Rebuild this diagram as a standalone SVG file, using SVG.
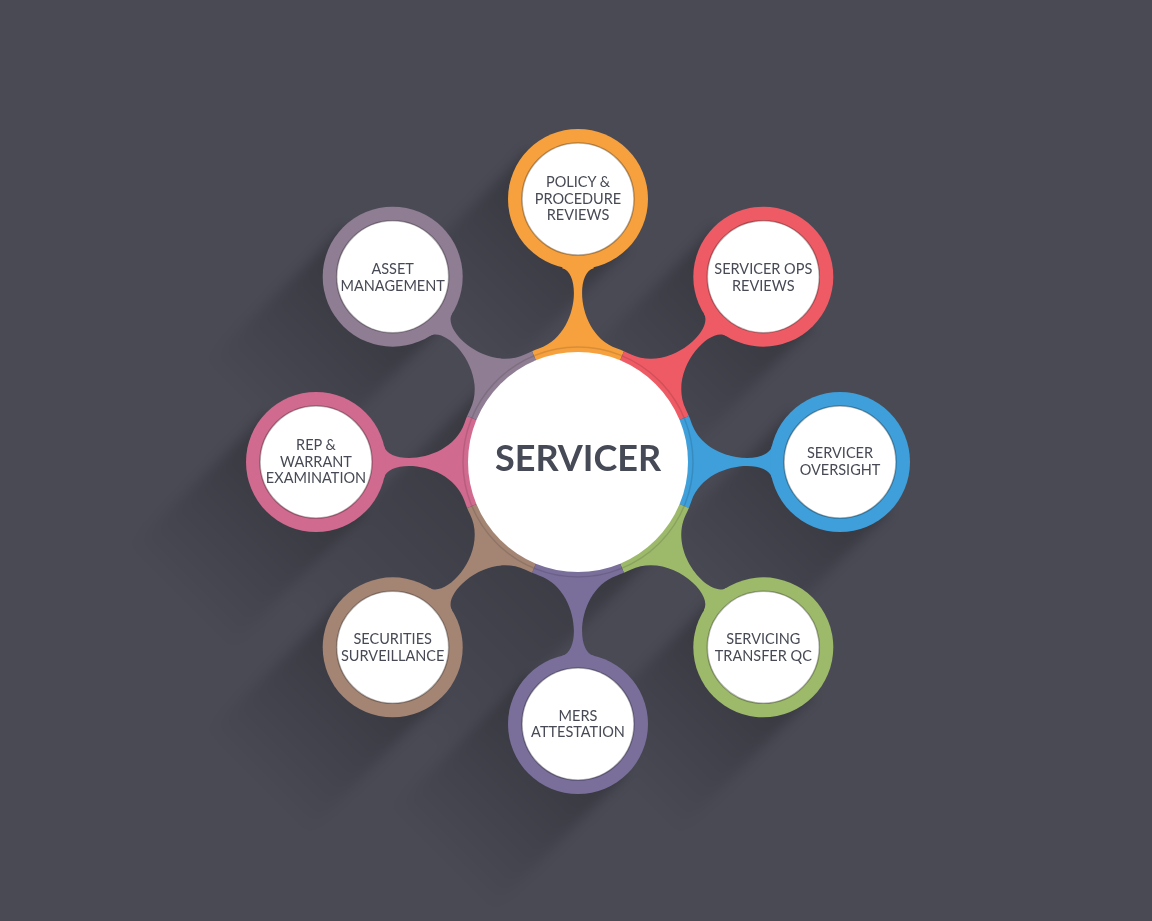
<svg xmlns="http://www.w3.org/2000/svg" width="1152" height="921" viewBox="0 0 1152 921">
  <defs>
    <linearGradient id="sh" x1="0" y1="0" x2="0" y2="1">
      <stop offset="0" stop-color="#000" stop-opacity="0.26"/>
      <stop offset="1" stop-color="#000" stop-opacity="0"/>
    </linearGradient>
    <filter id="blur" x="-30%" y="-30%" width="160%" height="160%">
      <feGaussianBlur stdDeviation="6"/>
    </filter>
    <path id="conn" d="M 0 0 L 110.87 -45.92 A 120 120 0 0 1 113.46 -39.07 C 127.2 0.66 189.3 3.73 193.8 -15.75 L 262 0 L 193.8 15.75 C 189.3 -3.73 127.2 -0.66 113.46 39.07 A 120 120 0 0 1 110.87 45.92 Z"/>
  </defs>
  <style>
    .ring { stroke: none; }
    .inner { fill: #ffffff; stroke: #000; stroke-opacity: 0.28; stroke-width: 1.6; }
    .lbl { font-family: Lato, "Liberation Sans", sans-serif; font-size: 14.5px; fill: #474a54; text-anchor: middle; }
    .title { font-family: Lato, "Liberation Sans", sans-serif; font-weight: bold; font-size: 36px; fill: #464a56; text-anchor: middle; }
  </style>
  <rect x="0" y="0" width="1152" height="921" fill="#4a4a55"/>

  <g id="shadows" filter="url(#blur)">
    <rect transform="translate(578 462) rotate(45)" x="-120" y="0" width="240" height="300" fill="url(#sh)"/>
    <rect transform="translate(578 199) rotate(45)" x="-70" y="0" width="140" height="190" fill="url(#sh)"/>
    <rect transform="translate(763.3 276.7) rotate(45)" x="-70" y="0" width="140" height="190" fill="url(#sh)"/>
    <rect transform="translate(840 462) rotate(45)" x="-70" y="0" width="140" height="190" fill="url(#sh)"/>
    <rect transform="translate(763.3 647.3) rotate(45)" x="-70" y="0" width="140" height="190" fill="url(#sh)"/>
    <rect transform="translate(578 724) rotate(45)" x="-70" y="0" width="140" height="190" fill="url(#sh)"/>
    <rect transform="translate(392.7 647.3) rotate(45)" x="-70" y="0" width="140" height="190" fill="url(#sh)"/>
    <rect transform="translate(316 462) rotate(45)" x="-70" y="0" width="140" height="190" fill="url(#sh)"/>
    <rect transform="translate(392.7 276.7) rotate(45)" x="-70" y="0" width="140" height="190" fill="url(#sh)"/>
  </g>

  <g id="connectors">
    <use href="#conn" transform="translate(578 462) rotate(-90)" fill="#f6a13e"/>
    <use href="#conn" transform="translate(578 462) rotate(-45)" fill="#ef5b65"/>
    <use href="#conn" transform="translate(578 462) rotate(0)" fill="#3e9fda"/>
    <use href="#conn" transform="translate(578 462) rotate(45)" fill="#9dba6b"/>
    <use href="#conn" transform="translate(578 462) rotate(90)" fill="#7a6f9b"/>
    <use href="#conn" transform="translate(578 462) rotate(135)" fill="#a48574"/>
    <use href="#conn" transform="translate(578 462) rotate(180)" fill="#d06a8e"/>
    <use href="#conn" transform="translate(578 462) rotate(225)" fill="#8f7d93"/>
  </g>

  <g id="center">
    <circle cx="578" cy="462" r="115" fill="none" stroke="#000" stroke-opacity="0.12" stroke-width="1.5"/>
    <circle cx="578" cy="462" r="110" fill="#ffffff"/>
    <text class="title" x="578" y="471">SERVICER</text>
  </g>

  <g id="node-policy">
    <circle class="ring" cx="578" cy="199" r="70" fill="#f6a13e"/>
    <circle class="inner" cx="578" cy="199" r="56"/>
    <text class="lbl" x="578" y="187">POLICY &amp;</text>
    <text class="lbl" x="578" y="204">PROCEDURE</text>
    <text class="lbl" x="578" y="220">REVIEWS</text>
  </g>

  <g id="node-ops">
    <circle class="ring" cx="763.3" cy="276.7" r="70" fill="#ef5b65"/>
    <circle class="inner" cx="763.3" cy="276.7" r="56"/>
    <text class="lbl" x="763.3" y="273.7">SERVICER OPS</text>
    <text class="lbl" x="763.3" y="290.7">REVIEWS</text>
  </g>

  <g id="node-oversight">
    <circle class="ring" cx="840" cy="462" r="70" fill="#3e9fda"/>
    <circle class="inner" cx="840" cy="462" r="56"/>
    <text class="lbl" x="840" y="458">SERVICER</text>
    <text class="lbl" x="840" y="475">OVERSIGHT</text>
  </g>

  <g id="node-transfer">
    <circle class="ring" cx="763.3" cy="647.3" r="70" fill="#9dba6b"/>
    <circle class="inner" cx="763.3" cy="647.3" r="56"/>
    <text class="lbl" x="763.3" y="644">SERVICING</text>
    <text class="lbl" x="763.3" y="661">TRANSFER QC</text>
  </g>

  <g id="node-mers">
    <circle class="ring" cx="578" cy="724" r="70" fill="#7a6f9b"/>
    <circle class="inner" cx="578" cy="724" r="56"/>
    <text class="lbl" x="578" y="721">MERS</text>
    <text class="lbl" x="578" y="737">ATTESTATION</text>
  </g>

  <g id="node-securities">
    <circle class="ring" cx="392.7" cy="647.3" r="70" fill="#a48574"/>
    <circle class="inner" cx="392.7" cy="647.3" r="56"/>
    <text class="lbl" x="392.7" y="644">SECURITIES</text>
    <text class="lbl" x="392.7" y="661">SURVEILLANCE</text>
  </g>

  <g id="node-rep">
    <circle class="ring" cx="316" cy="462" r="70" fill="#d06a8e"/>
    <circle class="inner" cx="316" cy="462" r="56"/>
    <text class="lbl" x="316" y="450">REP &amp;</text>
    <text class="lbl" x="316" y="467">WARRANT</text>
    <text class="lbl" x="316" y="483">EXAMINATION</text>
  </g>

  <g id="node-asset">
    <circle class="ring" cx="392.7" cy="276.7" r="70" fill="#8f7d93"/>
    <circle class="inner" cx="392.7" cy="276.7" r="56"/>
    <text class="lbl" x="392.7" y="274">ASSET</text>
    <text class="lbl" x="392.7" y="291">MANAGEMENT</text>
  </g>
</svg>
